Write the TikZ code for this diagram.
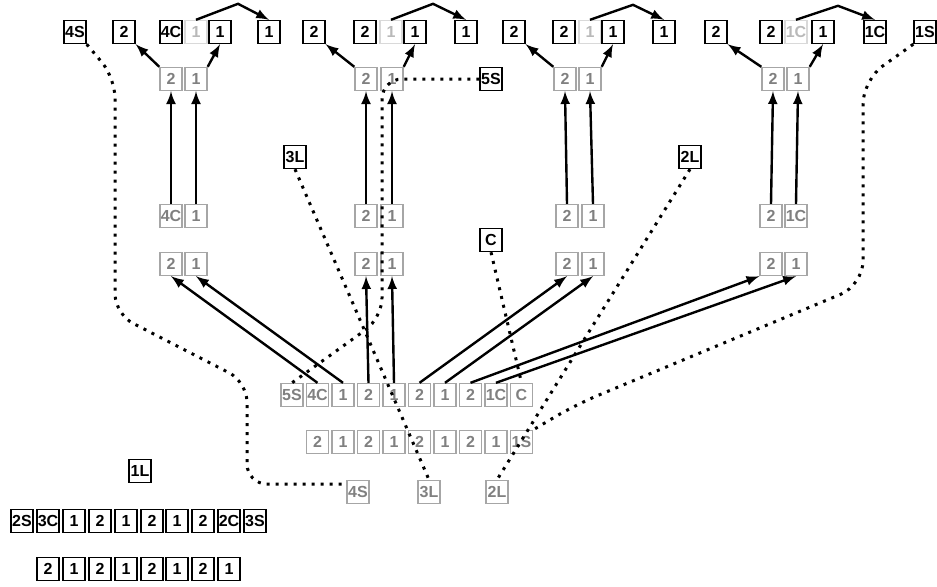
\documentclass[tikz,border=0pt]{standalone}
\usepackage{fontspec}
\newfontfamily\cellfont{Liberation Sans}
\usetikzlibrary{arrows}

\begin{document}
\begin{tikzpicture}[x=0.5pt,y=-0.5pt,>=latex,
  cell/.style={rectangle, draw=black, line width=0.7pt, minimum width=11pt, minimum height=11.5pt, inner sep=0pt, font=\cellfont\bfseries\fontsize{8}{8}\selectfont},
  gcell/.style={cell, draw=gray!70, text=gray},
  fcell/.style={cell, draw=gray!30, text=gray!55},
  link/.style={->, line width=1.2pt},
  ptr/.style={line width=1.5pt, dash pattern=on 1.5pt off 3pt}]
\useasboundingbox (0,0) rectangle (937,586);

% top row
\node[cell](t4S) at (75,32) {4S};
\node[cell](al) at (124,32) {2};
\node[cell](ap) at (171,32) {4C};
\node[fcell](aq) at (196,32) {1};
\node[cell](ar) at (220,32) {1};
\node[cell](af) at (269,32) {1};
\node[cell](bl) at (314,32) {2};
\node[cell](bp) at (365,32) {2};
\node[fcell](bq) at (391,32) {1};
\node[cell](br) at (415,32) {1};
\node[cell](bf) at (466,32) {1};
\node[cell](cl) at (514,32) {2};
\node[cell](cp) at (564,32) {2};
\node[fcell](cq) at (590,32) {1};
\node[cell](cr) at (613,32) {1};
\node[cell](cf) at (664,32) {1};
\node[cell](dl) at (716,32) {2};
\node[cell](dp) at (771,32) {2};
\node[fcell](dq) at (796,32) {1C};
\node[cell](dr) at (823,32) {1};
\node[cell](df) at (875,32) {1C};
\node[cell](t1S) at (925,32) {1S};

% second row
\node[gcell](a2x) at (171,79) {2};
\node[gcell](a2y) at (196,79) {1};
\node[gcell](b2x) at (366,79) {2};
\node[gcell](b2y) at (392,79) {1};
\node[gcell](c2x) at (565,79) {2};
\node[gcell](c2y) at (590,79) {1};
\node[gcell](d2x) at (773,79) {2};
\node[gcell](d2y) at (798,79) {1};
\node[cell](lab5S) at (491,79) {5S};

% labels
\node[cell](lab3L) at (295,157) {3L};
\node[cell](lab2L) at (690,157) {2L};
\node[cell](labC) at (491,240) {C};
\node[cell](lab1L) at (140,471) {1L};

% third row
\node[gcell](a3x) at (171,216) {4C};
\node[gcell](a3y) at (196,216) {1};
\node[gcell](b3x) at (366,216) {2};
\node[gcell](b3y) at (392,216) {1};
\node[gcell](c3x) at (567,216) {2};
\node[gcell](c3y) at (593,216) {1};
\node[gcell](d3x) at (771,216) {2};
\node[gcell](d3y) at (796,216) {1C};

% fourth row
\node[gcell](a4x) at (171,264) {2};
\node[gcell](a4y) at (196,264) {1};
\node[gcell](b4x) at (366,264) {2};
\node[gcell](b4y) at (392,264) {1};
\node[gcell](c4x) at (567,264) {2};
\node[gcell](c4y) at (593,264) {1};
\node[gcell](d4x) at (771,264) {2};
\node[gcell](d4y) at (796,264) {1};

% middle strip
\node[gcell](m1) at (292,395) {5S};
\node[gcell](m2) at (317.5,395) {4C};
\node[gcell](m3) at (343,395) {1};
\node[gcell](m4) at (368.5,395) {2};
\node[gcell](m5) at (394,395) {1};
\node[gcell](m6) at (419.5,395) {2};
\node[gcell](m7) at (445,395) {1};
\node[gcell](m8) at (470.5,395) {2};
\node[gcell](m9) at (496,395) {1C};
\node[gcell](m10) at (521.5,395) {C};

\node[gcell](n1) at (317.5,442) {2};
\node[gcell](n2) at (343,442) {1};
\node[gcell](n3) at (368.5,442) {2};
\node[gcell](n4) at (394,442) {1};
\node[gcell](n5) at (419.5,442) {2};
\node[gcell](n6) at (445,442) {1};
\node[gcell](n7) at (470.5,442) {2};
\node[gcell](n8) at (496,442) {1};
\node[gcell](n9) at (521.5,442) {1S};

\node[gcell](s4) at (358,492) {4S};
\node[gcell](l3) at (429,492) {3L};
\node[gcell](l2) at (497,492) {2L};

% bottom strips
\node[cell](p1) at (22,521) {2S};
\node[cell](p2) at (48,521) {3C};
\node[cell](p3) at (74,521) {1};
\node[cell](p4) at (100,521) {2};
\node[cell](p5) at (126,521) {1};
\node[cell](p6) at (152,521) {2};
\node[cell](p7) at (177,521) {1};
\node[cell](p8) at (203,521) {2};
\node[cell](p9) at (229,521) {2C};
\node[cell](p10) at (255,521) {3S};

\node[cell](q1) at (48,569) {2};
\node[cell](q2) at (74,569) {1};
\node[cell](q3) at (100,569) {2};
\node[cell](q4) at (126,569) {1};
\node[cell](q5) at (152,569) {2};
\node[cell](q6) at (177,569) {1};
\node[cell](q7) at (203,569) {2};
\node[cell](q8) at (229,569) {1};

% top arcs
\draw[link] (aq.north) -- ++(42,-16) -- (af.north);
\draw[link] (bq.north) -- ++(42,-16) -- (bf.north);
\draw[link] (cq.north) -- ++(43,-15) -- (cf.north);
\draw[link] (dq.north) -- ++(42,-14) -- (df.north);

% second row to top
\draw[link] (a2x.north west) -- (al.south east);
\draw[link] (a2y.north east) -- (ar.south);
\draw[link] (b2x.north west) -- (bl.south east);
\draw[link] (b2y.north east) -- (br.south);
\draw[link] (c2x.north west) -- (cl.south east);
\draw[link] (c2y.north east) -- (cr.south);
\draw[link] (d2x.north west) -- (dl.south east);
\draw[link] (d2y.north east) -- (dr.south);

% third row up
\draw[link] (a3x.north) -- (a2x.south);
\draw[link] (a3y.north) -- (a2y.south);
\draw[link] (b3x.north) -- (b2x.south);
\draw[link] (b3y.north) -- (b2y.south);
\draw[link] (c3x.north) -- (c2x.south);
\draw[link] (c3y.north) -- (c2y.south);
\draw[link] (d3x.north) -- (d2x.south);
\draw[link] (d3y.north) -- (d2y.south);

% middle strip to fourth row
\draw[link] (m2.north) -- (a4x.south);
\draw[link] (m3.north) -- (a4y.south);
\draw[link] (m4.north) -- (b4x.south);
\draw[link] (m5.north) -- (b4y.south);
\draw[link] (m6.north) -- (c4x.south);
\draw[link] (m7.north) -- (c4y.south);
\draw[link] (m8.north) -- (d4x.south west);
\draw[link] (m9.north) -- (d4y.south);

% dotted pointers
\draw[ptr, rounded corners=10] (t4S.south east) -- (115,78) -- (115,314) -- (247,382) -- (247,484) -- (s4.west |- 0,484);
\draw[ptr] (lab3L.south) -- (l3.north);
\draw[ptr] (lab2L.south) -- (l2.north);
\draw[ptr] (labC.south) -- (m10.north);
\draw[ptr, rounded corners=10] (lab5S.west) -- (382,79) -- (382,318) -- (m1.north);
\draw[ptr, rounded corners=12] (t1S.south west) -- (863,80) -- (863,285) -- (575,405) -- (n9.north east);
\end{tikzpicture}
\end{document}
